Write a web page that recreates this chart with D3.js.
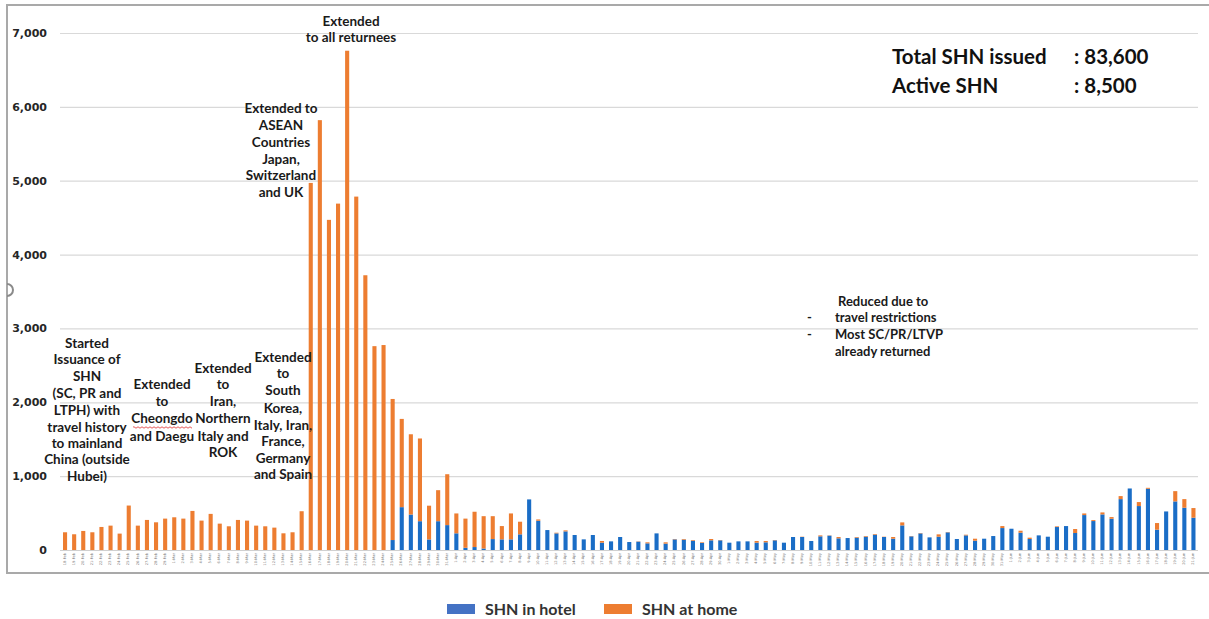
<!DOCTYPE html>
<html><head><meta charset="utf-8">
<script src="https://cdn.jsdelivr.net/npm/d3@7"></script>
<style>
html,body{margin:0;padding:0;background:#fff;}
svg{display:block;}
</style></head>
<body>
<script>
// ---- Data ----
const startDate = "2020-02-18";
const dayCount = 125;
const hotel = [0,0,0,0,0,0,0,0,0,0,0,0,0,0,0,0,0,0,0,0,0,0,0,0,0,0,0,
  0,0,0,0,0,0,0,0,0,
  135,580,480,390,143,390,337,226,30,40,20,148,
  144,144,212,685,396,270,225,252,203,144,203,99,117,176,108,113,90,225,86,144,140,126,95,131,131,99,117,117,99,104,131,99,
  176,176,122,185,194,158,162,167,180,207,176,153,333,185,225,171,180,239,149,198,126,153,189,297,288,234,149,198,180,311,324,230,
  473,392,482,423,689,833,595,829,275,522,658,572,437];
const home = [240,213,258,240,312,330,222,602,330,407,375,425,443,425,529,398,489,357,321,407,398,330,321,303,226,240,525,
  4970,5820,4470,4690,6760,4785,3720,2760,2775,
  1910,1195,1087,1120,457,420,689,269,395,478,438,310,
  180,351,171,0,18,0,9,14,0,0,0,23,0,0,0,4,14,0,18,5,9,9,9,18,4,0,0,0,23,18,4,0,
  0,4,0,13,4,18,0,9,9,9,4,23,41,4,5,0,32,4,0,9,27,0,0,27,0,27,18,0,0,9,0,54,
  22,13,27,23,41,0,54,13,90,0,139,117,131];
const yTicks = [0,1000,2000,3000,4000,5000,6000,7000];
const seriesNames = ["SHN in hotel","SHN at home"];
const seriesColors = ["#1a6dc6","#ed7d31"];
const legendColors = ["#4472c4","#ed7d31"];
const summary = [["Total SHN issued",": 83,600"],["Active SHN",": 8,500"]];

const fmtDay = d3.timeFormat("%-d-%b");
const d0 = d3.timeParse("%Y-%m-%d")(startDate);
const dates = d3.range(dayCount).map(i => fmtDay(d3.timeDay.offset(d0, i)));
const rows = dates.map((d,i) => ({date:d, hotel:hotel[i], home:home[i]}));

// ---- Layout ----
const W = 1209, H = 619;
const svg = d3.select("body").append("svg").attr("width", W).attr("height", H);
const x = d3.scaleBand().domain(dates).range([60.5, 1198]).paddingInner(0.55).paddingOuter(0.275);
const y = d3.scaleLinear().domain([0,7000]).range([550, 33]);

// frame
svg.append("path").attr("d","M1209,5H7V573H1209").attr("fill","none").attr("stroke","#a9a9a9").attr("stroke-width",2);
svg.append("path").attr("d","M7,284 a6,6 0 0 1 0,12").attr("fill","none").attr("stroke","#8a8a8a").attr("stroke-width",2);

// gridlines + y axis
const yAxis = d3.axisLeft(y).tickValues(yTicks).tickFormat(d3.format(",")).tickSize(-(1198-60)).tickPadding(13);
const gy = svg.append("g").attr("transform","translate(60,0)").call(yAxis);
gy.select(".domain").remove();
gy.selectAll(".tick line").attr("stroke","#d9d9d9").attr("stroke-width",1.2);
gy.selectAll(".tick text").attr("font-family","DejaVu Sans").attr("font-weight","bold").attr("font-size",11).attr("fill","#262626");
gy.selectAll(".tick").filter(d=>d===0).select("line").attr("stroke","#d0d0d0");

// stacked bars
const stack = d3.stack().keys(["hotel","home"])(rows);
svg.append("g").selectAll("g").data(stack).join("g")
  .attr("fill",(d,i)=>seriesColors[i])
  .selectAll("rect").data(d=>d).join("rect")
  .attr("x", d=>x(d.data.date))
  .attr("width", x.bandwidth())
  .attr("y", d=>y(d[1]))
  .attr("height", d=>Math.max(0, y(d[0])-y(d[1])));

// x axis tiny labels
const xAxis = d3.axisBottom(x).tickSize(0).tickPadding(2);
const gx = svg.append("g").attr("transform","translate(0,551)").call(xAxis);
gx.select(".domain").remove();
gx.selectAll(".tick text").attr("font-family","DejaVu Sans").attr("font-size",3.6).attr("fill","#777")
  .attr("transform","rotate(-90)").attr("text-anchor","end").attr("dx","-2").attr("dy","-1.3");

// annotations
const ann = svg.append("g").attr("font-family","Lato").attr("font-weight","bold").attr("font-size",13.5).attr("fill","#1a1a1a").attr("text-anchor","middle");
function block(cx, ys, lines){
  lines.forEach((t,i)=>ann.append("text").attr("x",cx).attr("y",ys[i]+5).text(t));
}
block(87,[343,359,376,393,410,427,443,459,476],["Started","Issuance of","SHN","(SC, PR and","LTPH) with","travel history","to mainland","China (outside","Hubei)"]);
block(162,[384,401,418,436],["Extended","to","Cheongdo","and Daegu"]);
block(223,[368,384,401,418,436,452],["Extended","to","Iran,","Northern","Italy and","ROK"]);
block(283,[357,373,390,408,425,441,458,474],["Extended","to","South","Korea,","Italy, Iran,","France,","Germany","and Spain"]);
block(281,[108,125,142,159,175,192],["Extended to","ASEAN","Countries","Japan,","Switzerland","and UK"]);
block(351,[21,37],["Extended","to all returnees"]);
// spell-check squiggle under Cheongdo
const sq = d3.path(); sq.moveTo(133,427);
for(let k=0;k<30;k++){ sq.lineTo(134+k*2, 427 + (k%2?1.2:-0.2)); }
svg.append("path").attr("d",sq.toString()).attr("fill","none").attr("stroke","#e03030").attr("stroke-width",0.8);

// right annotation
const ra = svg.append("g").attr("font-family","Lato").attr("font-weight","bold").attr("font-size",13).attr("fill","#1a1a1a");
ra.append("text").attr("x",838).attr("y",306).text("Reduced due to");
ra.append("text").attr("x",807).attr("y",322).text("-");
ra.append("text").attr("x",835).attr("y",322).text("travel restrictions");
ra.append("text").attr("x",807).attr("y",339).text("-");
ra.append("text").attr("x",835).attr("y",339).text("Most SC/PR/LTVP");
ra.append("text").attr("x",835).attr("y",356).text("already  returned");

// summary
const sm = svg.append("g").attr("font-family","Lato").attr("font-weight","bold").attr("font-size",20.5).attr("fill","#111");
summary.forEach((s,i)=>{
  sm.append("text").attr("x",892).attr("y",64+i*29).text(s[0]);
  sm.append("text").attr("x",1074).attr("y",64+i*29).text(s[1]);
});

// legend
const lg = svg.append("g").attr("font-family","Lato").attr("font-weight","bold").attr("font-size",16).attr("fill","#333");
const lx = [447,604];
seriesNames.forEach((n,i)=>{
  lg.append("rect").attr("x",lx[i]).attr("y",604).attr("width",28).attr("height",10).attr("fill",legendColors[i]);
  lg.append("text").attr("x",lx[i]+38).attr("y",615).text(n);
});
</script>
</body></html>
